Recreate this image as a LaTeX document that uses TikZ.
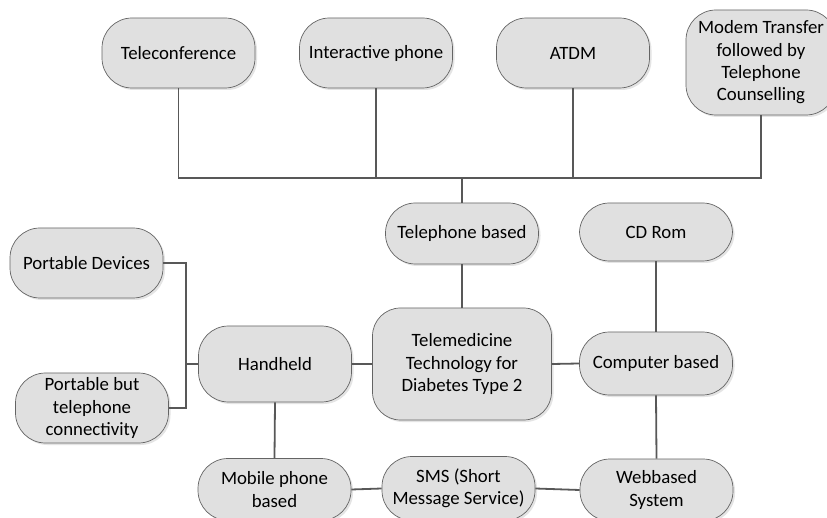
\documentclass[tikz,border=0pt]{standalone}
\usepackage{fontspec}
\setmainfont{Carlito}
\usetikzlibrary{shadows}
\definecolor{boxfill}{RGB}{224,224,224}
\definecolor{boxline}{RGB}{100,100,100}
\definecolor{connline}{RGB}{88,88,88}
\begin{document}
\begin{tikzpicture}[x=1pt,y=-1pt,
  pill/.style={draw=boxline, line width=0.7pt, fill=boxfill, rounded corners=30pt,
    minimum width=153pt, minimum height=70pt, align=center, inner sep=2pt,
    font=\fontsize{18.8}{22.3}\selectfont,
    drop shadow={shadow xshift=2pt, shadow yshift=-2pt, fill=gray!60, opacity=0.35}},
  conn/.style={draw=connline, line width=1.8pt}]
\clip (0,0) rectangle (827,518);
\fill[white] (0,0) rectangle (827,518);
% top row
\node[pill] (tc) at (178.5,53) {Teleconference};
\node[pill] (ip) at (376,53) {Interactive phone};
\node[pill] (at) at (573,53) {ATDM};
\node[pill, minimum height=105pt, minimum width=150pt] (mt) at (761,62.5) {Modem Transfer\\followed by\\Telephone\\Counselling};
% middle
\node[pill, minimum height=61pt] (tb) at (462,233.5) {Telephone based};
\node[pill, minimum height=58pt] (cd) at (656,232) {CD Rom};
\node[pill, minimum width=179pt, minimum height=112pt, rounded corners=28pt] (tm) at (462,364) {Telemedicine\\Technology for\\Diabetes Type 2};
\node[pill, minimum height=63pt] (cb) at (656,363.5) {Computer based};
\node[pill, minimum height=76pt] (hh) at (275,364) {Handheld};
\node[pill] (pd) at (86.5,263) {Portable Devices};
\node[pill] (pb) at (92,408) {Portable but\\telephone\\connectivity};
% bottom
\node[pill, minimum height=62pt] (mp) at (274.5,489.5) {Mobile phone\\based};
\node[pill, minimum height=64pt] (sms) at (458.5,488.5) {SMS (Short\\Message Service)};
\node[pill, minimum height=62pt] (wb) at (656.5,490) {Webbased\\System};
% junctions
\coordinate (bus) at (462,178);
\coordinate (hj) at (186,364);
% connectors
\draw[conn] (tc.south) |- (bus) -| (mt.south);
\draw[conn] (ip.south) -- (ip.south |- bus);
\draw[conn] (at.south) -- (at.south |- bus);
\draw[conn] (bus) -- (tb.north);
\draw[conn] (tb.south) -- (tm.north);
\draw[conn] (cd.south) -- (cb.north);
\draw[conn] (cb.south) -- (wb.north);
\draw[conn] (tm.east) -- (cb.west);
\draw[conn] (tm.west) -- (hh.east);
\draw[conn] (pd.east) -| (hj) |- (pb.east);
\draw[conn] (hj) -- (hh.west);
\draw[conn] (hh.south) -- (mp.north);
\draw[conn] (mp.east) -- (sms.west);
\draw[conn] (sms.east) -- (wb.west);
\end{tikzpicture}
\end{document}
